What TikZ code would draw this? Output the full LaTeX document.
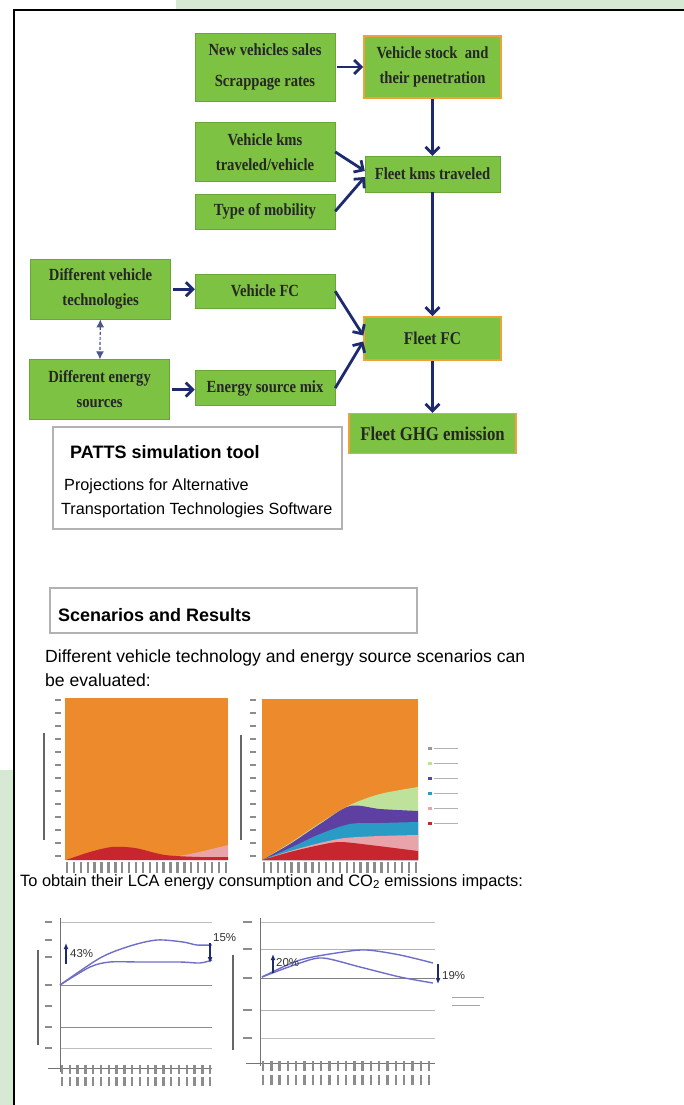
\documentclass[tikz,border=0pt]{standalone}
\usepackage{fontspec}
\setmainfont{Liberation Serif}
\setsansfont{Liberation Sans}
\newfontfamily\boxfont[FakeStretch=0.86]{Liberation Serif}
\usepackage{xcolor}
\usepackage{tikz}
\usetikzlibrary{arrows.meta,positioning,calc}

\definecolor{boxgreen}{HTML}{7DC242}
\definecolor{boxorange}{HTML}{F0A03C}
\definecolor{navy}{HTML}{1E2A6E}
\definecolor{bggreen}{HTML}{D6E9D2}
\definecolor{chartorange}{HTML}{EC8A2C}
\definecolor{chartred}{HTML}{C8262E}
\definecolor{chartpink}{HTML}{E8A4A8}
\definecolor{chartteal}{HTML}{2A9BC4}
\definecolor{chartpurple}{HTML}{5E3FA2}
\definecolor{chartlgreen}{HTML}{BEE29A}
\definecolor{curveblue}{HTML}{6E6EC8}

\begin{document}
\begin{tikzpicture}[
  x=1pt,y=-1pt,
  node distance=20pt,
  box/.style={rectangle,draw=boxgreen!85!black,fill=boxgreen,align=center,inner sep=2pt,
    minimum width=140pt,text=black!85,font=\boxfont\bfseries\fontsize{17}{25}\selectfont},
  hibox/.style={box,draw=boxorange,line width=1.6pt},
  arr/.style={-{Straight Barb[length=7pt,width=14pt]},line width=2.8pt,draw=navy},
  dbl/.style={{Latex[length=8pt,width=8pt]}-{Latex[length=8pt,width=8pt]},line width=1.2pt,draw=navy!80,densely dashed},
  panel/.style={rectangle,draw=black!30,line width=1.2pt,fill=white},
  ttl/.style={anchor=west,inner sep=0pt,font=\sffamily\bfseries\fontsize{18}{20}\selectfont},
  txt/.style={anchor=west,inner sep=0pt,font=\sffamily\fontsize{16.2}{19}\selectfont},
  pct/.style={inner sep=0pt,font=\sffamily\fontsize{11.5}{12}\selectfont,text=black!80},
  tick/.style={line width=2.4pt,draw=black!45},
  grid/.style={line width=1pt,draw=black!25},
  curve/.style={line width=1.4pt,draw=curveblue},
  pctarr/.style={-{Latex[length=6pt,width=5pt]},line width=1.4pt,draw=navy}
]
\useasboundingbox (0,0) rectangle (684,1105);
\fill[bggreen] (176,0) rectangle (684,9);
\fill[bggreen] (0,770) rectangle (13,1105);
\draw[line width=1.8pt] (14,1105) -- (14,10) -- (684,10);

% flow chart
\node[box,minimum height=68pt] (sales) at (265,67) {New vehicles sales\\[6pt]Scrappage rates};
\node[hibox,minimum width=137pt,minimum height=62pt,right=28pt of sales] (stock) {Vehicle stock~ and\\their penetration};
\node[box,minimum height=59pt,below=21pt of sales] (kmsveh) {Vehicle kms\\traveled/vehicle};
\node[box,minimum height=35pt,below=12pt of kmsveh] (mobility) {Type of mobility};
\node[box,minimum width=135pt,minimum height=36pt,below=57pt of stock] (fleetkms) {Fleet kms traveled};
\node[box,minimum height=34pt,below=45pt of mobility] (vehfc) {Vehicle FC};
\node[box,minimum height=60pt,left=24pt of vehfc,yshift=2pt] (difftech) {Different vehicle\\technologies};
\node[hibox,minimum width=137pt,minimum height=43pt,below=124pt of fleetkms,font=\boxfont\bfseries\fontsize{18}{20}\selectfont] (fleetfc) {Fleet FC};
\node[box,minimum height=35pt,below=62pt of vehfc] (mix) {Energy source mix};
\node[box,minimum height=60pt,left=25pt of mix,yshift=-1.5pt] (diffenergy) {Different energy\\sources};
\node[hibox,minimum width=167pt,minimum height=40pt,below=52pt of fleetfc,font=\boxfont\bfseries\fontsize{19.5}{20}\selectfont] (ghg) {Fleet GHG emission};

\draw[arr,shorten <=2pt] (sales) -- (stock);
\draw[arr] (stock) -- (fleetkms);
\draw[arr] (kmsveh.east) -- ([yshift=3pt]fleetkms.west);
\draw[arr] (mobility.east) -- ([yshift=-3pt]fleetkms.west);
\draw[arr] (fleetkms) -- (fleetfc);
\draw[arr,shorten <=2pt] (difftech.east) -- (difftech.east -| vehfc.west);
\draw[arr,shorten <=2pt] (diffenergy.east) -- (diffenergy.east -| mix.west);
\draw[dbl] (difftech) -- (diffenergy);
\draw[arr] (vehfc.east) -- ([yshift=3pt]fleetfc.west);
\draw[arr] (mix.east) -- ([yshift=-3pt]fleetfc.west);
\draw[arr] (fleetfc) -- (ghg);

% text panels
\node[panel,minimum width=289pt,minimum height=102pt] (patts) at (197.5,478) {};
\node[ttl] (pattsttl) at (70,452) {PATTS simulation tool};
\node[txt] (pattsl1) at (64,486) {Projections for Alternative};
\node[txt] (pattsl2) at (61,510) {Transportation Technologies Software};

\node[panel,minimum width=367pt,minimum height=45pt] (scen) at (233.5,610.5) {};
\node[ttl] (scenttl) at (58,615) {Scenarios and Results};
\node[txt,font=\sffamily\fontsize{17.6}{20}\selectfont] (scenl1) at (45,658) {Different vehicle technology and energy source scenarios can};
\node[txt,font=\sffamily\fontsize{17.6}{20}\selectfont] (scenl2) at (45,680) {be evaluated:};
\node[txt,font=\sffamily\fontsize{16.4}{19}\selectfont] (lca) at (20,882) {To obtain their LCA energy consumption and CO\textsubscript{2} emissions impacts:};

% sales share charts
\fill[chartorange] (65,698) rectangle (228,860);
\fill[chartpink] plot[smooth] coordinates {(150,860) (190,854) (228,845)} -- (228,860) -- cycle;
\fill[chartred] plot[smooth] coordinates {(66,860) (90,852) (112,847) (135,848) (165,855) (200,857) (228,857)} -- (228,860) -- cycle;
\foreach \i in {0,...,12} \draw[tick,line width=1.2pt] (55,{700+\i*13}) -- (61,{700+\i*13});
\draw[tick,line width=2.4pt,draw=black!60] (44,733) -- (44,840);
\foreach \i in {0,...,23} \draw[tick] ({67+\i*6.9},862) -- ({67+\i*6.9},873);

\fill[chartorange] (262,699) rectangle (418,860);
\fill[chartlgreen] plot[smooth] coordinates {(262,860) (290,843) (320,823) (350,805) (380,794) (418,787)} -- (418,860) -- cycle;
\fill[chartpurple] plot[smooth] coordinates {(262,860) (290,844) (320,824) (350,806) (380,809) (418,811)} -- (418,860) -- cycle;
\fill[chartteal] plot[smooth] coordinates {(262,860) (290,848) (320,834) (350,824) (380,823) (418,822)} -- (418,860) -- cycle;
\fill[chartpink] plot[smooth] coordinates {(262,860) (290,851) (320,843) (345,838) (380,836) (418,835)} -- (418,860) -- cycle;
\fill[chartred] plot[smooth] coordinates {(262,860) (290,852) (320,845) (340,842) (370,845) (418,851)} -- (418,860) -- cycle;
\foreach \i in {0,...,12} \draw[tick,line width=1.2pt] (250,{700+\i*13}) -- (256,{700+\i*13});
\draw[tick,line width=2.4pt,draw=black!60] (241,735) -- (241,840);
\foreach \i in {0,...,22} \draw[tick] ({264+\i*6.9},862) -- ({264+\i*6.9},873);
\foreach \c [count=\i] in {black!40,chartlgreen,chartpurple,chartteal,chartpink,chartred}
  {\fill[\c] (428,{732+\i*15}) rectangle +(4,3);
   \draw[black!30,line width=1pt] (434,{733.5+\i*15}) -- +(24,0);}

% LCA charts
\foreach \y/\g in {922/25,985/45,1027/45,1048/25} \draw[grid,draw=black!\g] (60,\y) -- (212,\y);
\draw[black!55,line width=1pt] (60,918) -- (60,1072);
\draw[black!55,line width=1pt] (48,1068) -- (212,1068);
\foreach \y in {922,940,957,985,1006,1027,1048} \draw[tick,line width=1.2pt] (45,\y) -- (52,\y);
\draw[tick,line width=2.4pt,draw=black!60] (38,950) -- (38,1045);
\foreach \i in {0,...,19} {\draw[tick] ({62+\i*7.8},1065) -- ({62+\i*7.8},1074);
  \draw[tick] ({62+\i*7.8},1077) -- ({62+\i*7.8},1086);}
\draw[curve] plot[smooth] coordinates {(60,985) (100,958) (130,946) (157,940) (183,942) (197,945) (212,945)};
\draw[curve] plot[smooth] coordinates {(60,985) (90,967) (110,962) (140,962) (180,962) (200,963) (212,960)};
\draw[pctarr] (66,964) -- (66,943);
\node[pct,anchor=west] (up43) at (70,954) {43\%};
\draw[pctarr] (210,943) -- (210,963);
\node[pct,anchor=west] (down15) at (213,938) {15\%};

\foreach \y/\g in {922/25,949/30,978/50,1010/30,1038/25} \draw[grid,draw=black!\g] (260,\y) -- (435,\y);
\draw[black!55,line width=1pt] (260,918) -- (260,1066);
\draw[black!55,line width=1pt] (246,1063) -- (435,1063);
\foreach \y in {922,949,978,1010,1038} \draw[tick,line width=1.2pt] (243,\y) -- (252,\y);
\draw[tick,line width=2.4pt,draw=black!60] (233,955) -- (233,1050);
\foreach \i in {0,...,20} {\draw[tick] ({263+\i*8.3},1061) -- ({263+\i*8.3},1071);
  \draw[tick] ({263+\i*8.3},1075) -- ({263+\i*8.3},1085);}
\draw[curve] plot[smooth] coordinates {(262,977) (300,960) (343,952) (367,950) (400,955) (433,963)};
\draw[curve] plot[smooth] coordinates {(262,977) (300,963) (323,958) (360,967) (400,977) (433,983)};
\draw[pctarr] (273,973) -- (273,954);
\node[pct,anchor=west] (up20) at (276,963) {20\%};
\draw[pctarr] (438,964) -- (438,984);
\node[pct,anchor=west] (down19) at (442,976) {19\%};
\draw[black!35,line width=1pt] (452,997) -- (484,997);
\draw[black!35,line width=1pt] (452,1005) -- (480,1005);
\end{tikzpicture}
\end{document}
